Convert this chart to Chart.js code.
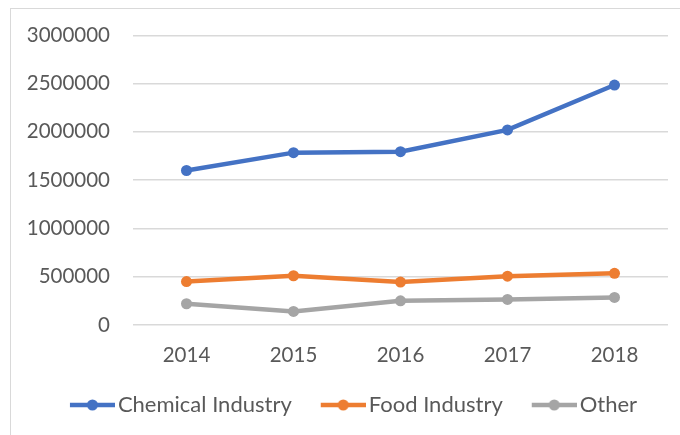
<!DOCTYPE html>
<html>
<head>
<meta charset="utf-8">
<script src="https://cdn.jsdelivr.net/npm/chart.js@4.4.1/dist/chart.umd.min.js"></script>
<style>
  html, body { margin: 0; padding: 0; background: #fff; }
  #wrap { position: relative; width: 680px; height: 435px; overflow: hidden; }
  #frame { position: absolute; left: 10px; top: 8px; width: 700px; height: 460px;
           border-left: 1.5px solid #d9d9d9; border-top: 1.5px solid #d9d9d9; }
  canvas { position: absolute; left: 0; top: 0; }
</style>
</head>
<body>
<div id="wrap">
  <div id="frame"></div>
  <canvas id="c" width="680" height="435"></canvas>
</div>
<script>
const years = ['2014', '2015', '2016', '2017', '2018'];
const chemicalIndustry = [1600000, 1785000, 1795000, 2020000, 2485000];
const foodIndustry = [450000, 510000, 445000, 505000, 535000];
const other = [220000, 140000, 250000, 265000, 285000];
const yTicks = [0, 500000, 1000000, 1500000, 2000000, 2500000, 3000000];
const seriesNames = ['Chemical Industry', 'Food Industry', 'Other'];
const seriesColors = ['#4472C4', '#ED7D31', '#A5A5A5'];

const FONT = 'Lato';
const TEXT = '#595959';

function legendIcon(color) {
  const cv = document.createElement('canvas');
  cv.width = 72; cv.height = 12;
  const g = cv.getContext('2d');
  g.strokeStyle = color; g.lineWidth = 4.5; g.lineCap = 'butt';
  g.beginPath(); g.moveTo(27, 6); g.lineTo(72, 6); g.stroke();
  g.fillStyle = color;
  g.beginPath(); g.arc(49.5, 6, 5.5, 0, Math.PI * 2); g.fill();
  return cv;
}

const allSeries = [chemicalIndustry, foodIndustry, other];
const datasets = allSeries.map((d, i) => ({
  label: seriesNames[i],
  data: d,
  borderColor: seriesColors[i],
  backgroundColor: seriesColors[i],
  pointBackgroundColor: seriesColors[i],
  pointBorderColor: seriesColors[i],
  borderWidth: 4.5,
  pointRadius: 5.5,
  pointBorderWidth: 0,
  tension: 0,
  fill: false
}));

new Chart(document.getElementById('c'), {
  type: 'line',
  data: { labels: years, datasets },
  options: {
    responsive: false,
    animation: false,
    layout: { padding: { left: 20, right: 12, top: 33.5, bottom: 9 } },
    scales: {
      x: {
        offset: true,
        grid: { display: false, drawTicks: false },
        border: { display: false },
        ticks: { color: TEXT, font: { family: FONT, size: 20.5 }, padding: 18.5 },
        afterFit: s => { s.height = 59; }
      },
      y: {
        min: 0, max: 3000000,
        afterBuildTicks: s => { s.ticks = yTicks.map(v => ({ value: v })); },
        grid: { color: '#d9d9d9', lineWidth: 1.5, drawTicks: false },
        border: { display: false },
        ticks: { color: TEXT, font: { family: FONT, size: 20.5 }, padding: 23,
                 callback: v => String(v) },
        afterFit: s => { s.width = 113; }
      }
    },
    plugins: {
      tooltip: { enabled: false },
      legend: {
        position: 'bottom',
        labels: {
          color: TEXT,
          font: { family: FONT, size: 22 },
          usePointStyle: true,
          pointStyleWidth: 56,
          padding: 10,
          generateLabels: chart => Chart.defaults.plugins.legend.labels.generateLabels(chart)
            .map((l, i) => Object.assign(l, { pointStyle: legendIcon(seriesColors[i]) }))
        }
      }
    }
  }
});
</script>
</body>
</html>
